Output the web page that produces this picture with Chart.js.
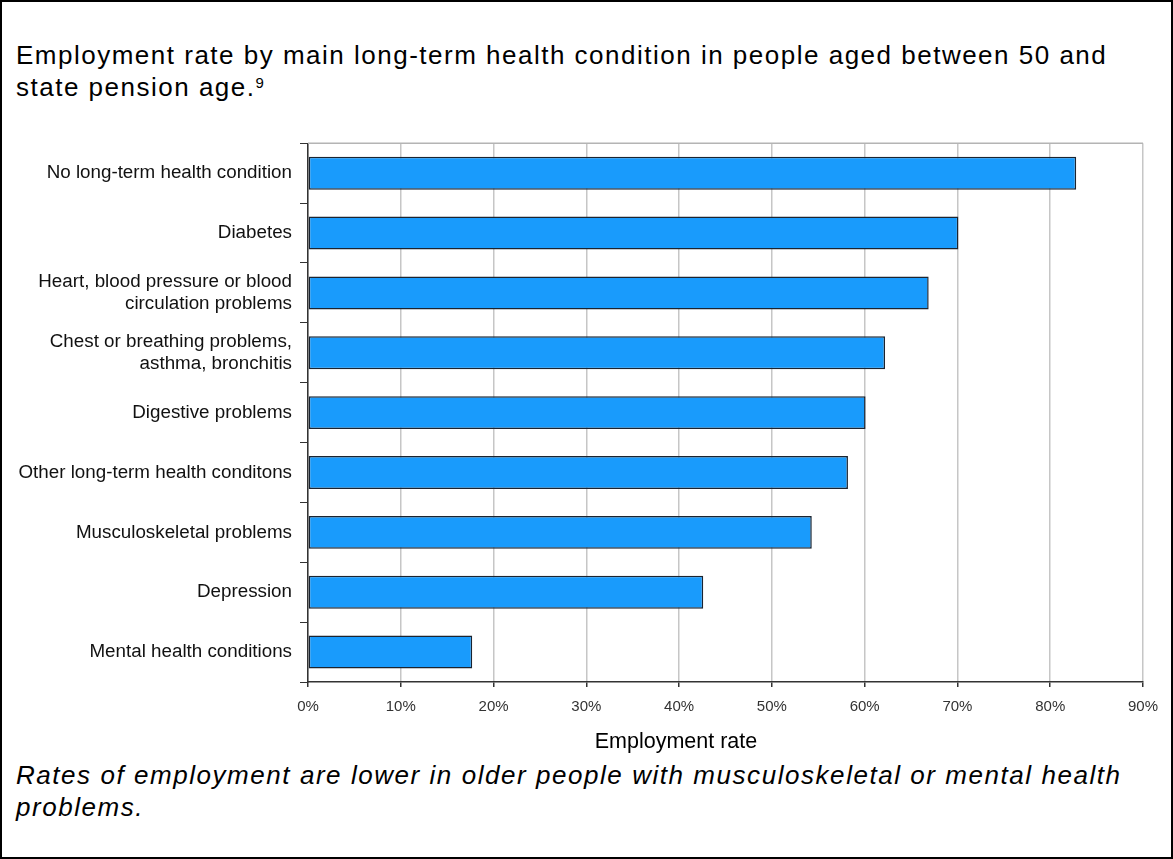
<!DOCTYPE html>
<html>
<head>
<meta charset="utf-8">
<script src="https://cdn.jsdelivr.net/npm/chart.js@4/dist/chart.umd.min.js"></script>
<style>
  html, body { margin:0; padding:0; background:#fff; }
  #frame {
    position:relative; width:1173px; height:859px; box-sizing:border-box;
    border:2px solid #000; font-family:"Liberation Sans", Arial, sans-serif; color:#000;
  }
  #title { position:absolute; left:14px; top:37px; width:1150px; font-size:26px; line-height:32px; letter-spacing:1.5px; white-space:nowrap; }
  #title sup { font-size:15px; vertical-align:top; position:relative; top:-4px; letter-spacing:0; }
  #caption { position:absolute; left:14px; top:757px; width:1150px; font-size:26px; line-height:32px; font-style:italic; letter-spacing:1.55px; white-space:nowrap; }
  #xtitle { position:absolute; left:574px; top:727px; width:200px; text-align:center; font-size:21.5px; line-height:24px; }
  #wrap { position:absolute; left:-2px; top:122px; width:1169px; height:627px; }
</style>
</head>
<body>
<div id="frame">
  <div id="title">Employment rate by main long-term health condition in people aged between 50 and<br>state pension age.<sup>9</sup></div>
  <div id="wrap"><canvas id="chart"></canvas></div>
  <div id="xtitle">Employment rate</div>
  <div id="caption">Rates of employment are lower in older people with musculoskeletal or mental health<br>problems.</div>
</div>
<script>
/* ====== data ====== */
const conditions = [
  'No long-term health condition',
  'Diabetes',
  ['Heart, blood pressure or blood', 'circulation problems'],
  ['Chest or breathing problems,', 'asthma, bronchitis'],
  'Digestive problems',
  'Other long-term health conditons',
  'Musculoskeletal problems',
  'Depression',
  'Mental health conditions'
];
const employmentRate = [82.8, 70.1, 66.9, 62.2, 60.1, 58.2, 54.3, 42.6, 17.7];
const xTicks = [0, 10, 20, 30, 40, 50, 60, 70, 80, 90];

// top edge of the plot is a grey line
const plotTopBorder = {
  id: 'plotTopBorder',
  afterDraw(chart){
    const {ctx, chartArea:a} = chart;
    ctx.save();
    ctx.strokeStyle = '#b4b4b4';
    ctx.lineWidth = 1.5;
    ctx.beginPath();
    ctx.moveTo(a.left, a.top);
    ctx.lineTo(a.right, a.top);
    ctx.stroke();
    ctx.restore();
  }
};

new Chart(document.getElementById('chart'), {
  type: 'bar',
  data: {
    labels: conditions,
    datasets: [{
      data: employmentRate,
      backgroundColor: '#199bfc',
      borderColor: '#1b2430',
      borderWidth: 1.5,
      borderSkipped: false,
      barPercentage: 0.55,
      categoryPercentage: 1
    }]
  },
  options: {
    indexAxis: 'y',
    responsive: true,
    maintainAspectRatio: false,
    animation: false,
    layout: { padding: { top: 10, right: 18, bottom: 0, left: 0 } },
    plugins: { legend: { display:false }, tooltip: { enabled:false } },
    scales: {
      x: {
        min: 0, max: 90,
        afterBuildTicks: s => { s.ticks = xTicks.map(v => ({ value: v })); },
        afterFit: s => { s.height = 69; },
        grid: { color:'#c6c6c6', lineWidth:1.5, tickColor:'#333', tickLength:5 },
        border: { color:'#333', width:1.5 },
        ticks: {
          padding: 11,
          color: '#333',
          font: { family:'"Liberation Sans", Arial, sans-serif', size:15 },
          callback: v => v + '%'
        }
      },
      y: {
        afterFit: s => { s.width = 308; },
        grid: { drawOnChartArea:false, color:'#333', tickLength:8, offset:true },
        border: { color:'#333', width:1.5 },
        ticks: {
          padding: 8,
          color: '#111',
          font: { family:'"Liberation Sans", Arial, sans-serif', size:18.8 }
        }
      }
    }
  },
  plugins: [plotTopBorder]
});
</script>
</body>
</html>
